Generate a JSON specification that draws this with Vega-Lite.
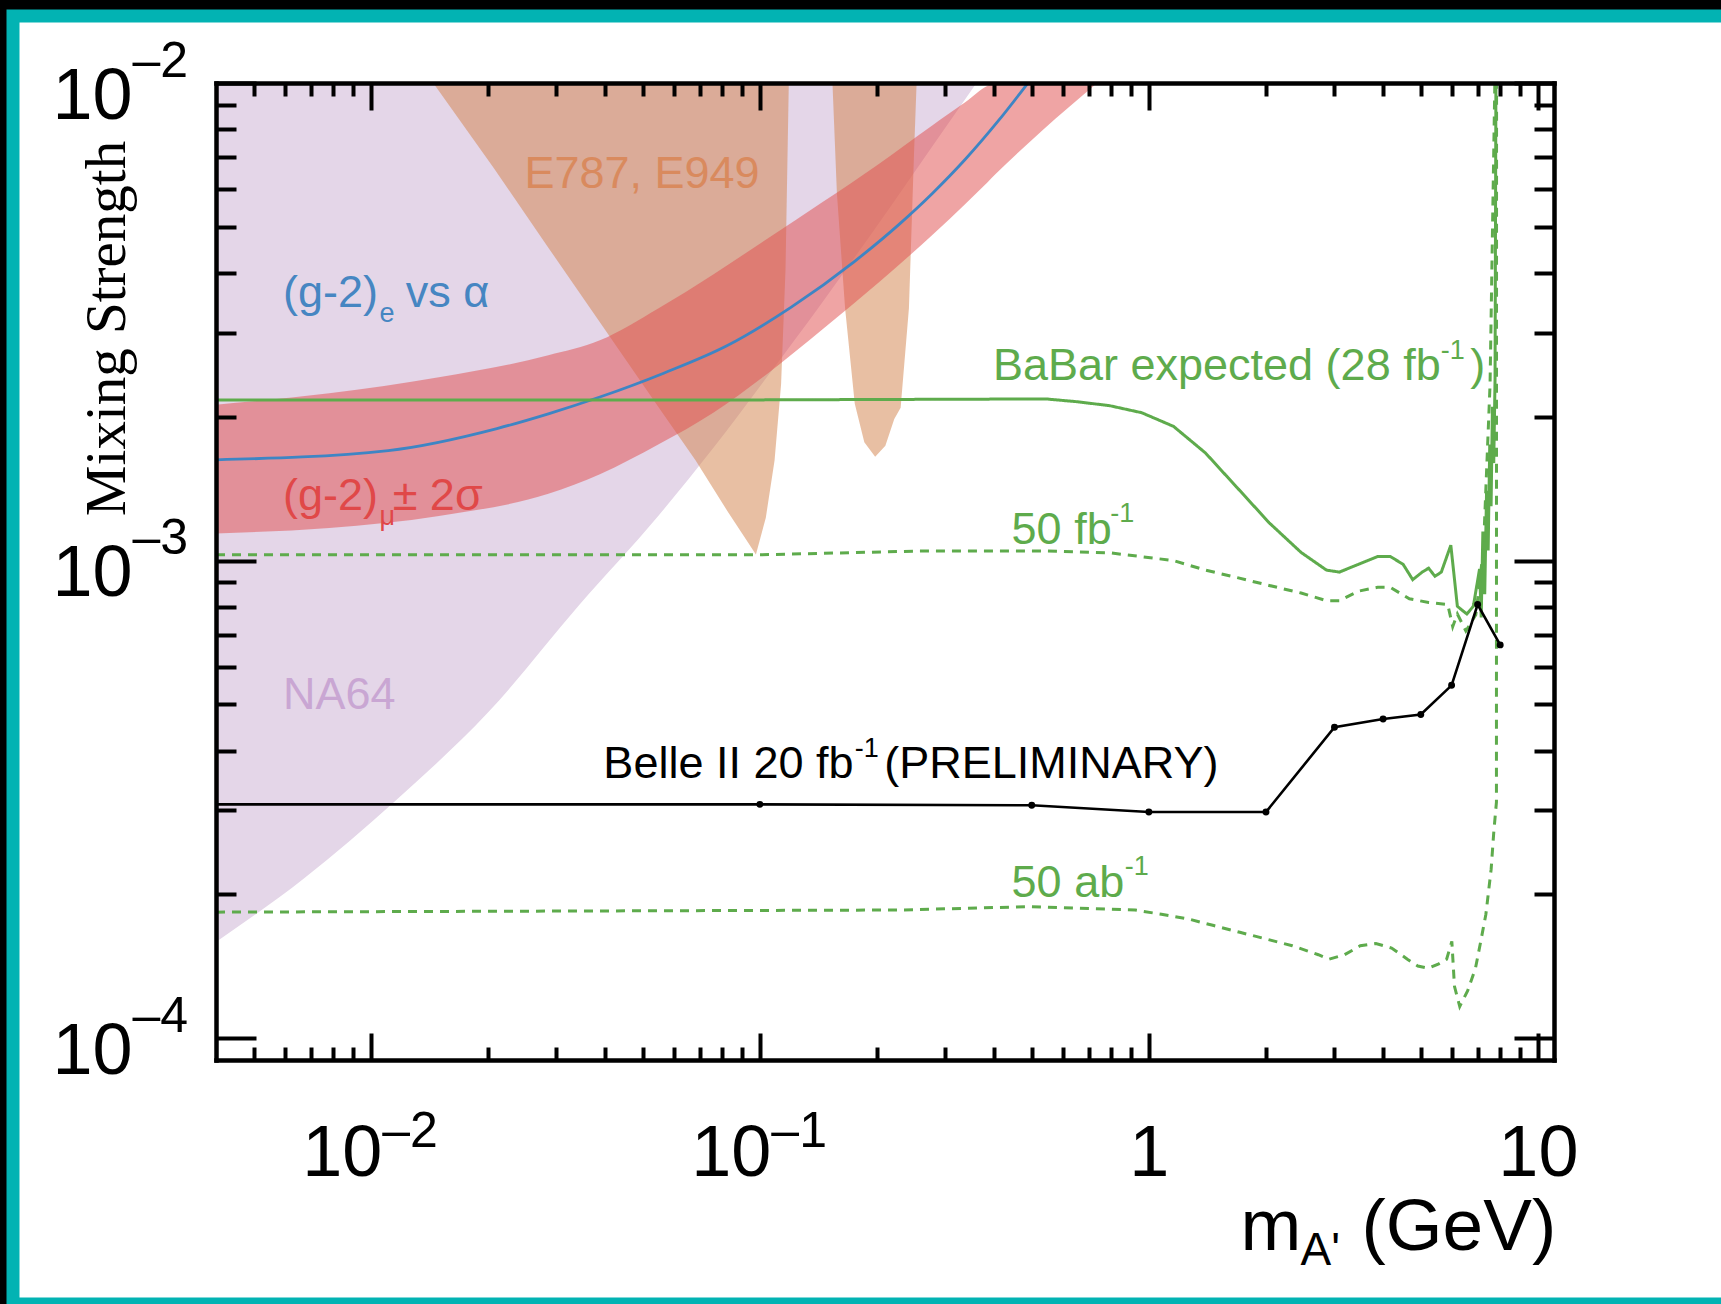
{
  "$schema": "https://vega.github.io/schema/vega-lite/v6.json",
  "width": 1708,
  "height": 1288,
  "autosize": {"type": "none"},
  "padding": {"left": 13, "top": 16, "right": 0, "bottom": 0},
  "background": "#000000",
  "view": {"fill": "#ffffff", "stroke": "#02B3B3", "strokeWidth": 13, "strokeDash": [1708, 1288, 3000]},
  "config": {"font": "Liberation Sans", "axis": {"grid": false}},
  "datasets": {
    "na64": [
      {"m": 0.004, "v": 0.000159}, {"m": 0.00673, "v": 0.000216}, {"m": 0.01161, "v": 0.000315},
      {"m": 0.02003, "v": 0.000481}, {"m": 0.03433, "v": 0.000807}, {"m": 0.0548, "v": 0.00124},
      {"m": 0.0759, "v": 0.00172}, {"m": 0.105, "v": 0.00244}, {"m": 0.145, "v": 0.00348},
      {"m": 0.201, "v": 0.00505}, {"m": 0.278, "v": 0.00738}, {"m": 0.3605, "v": 0.01}
    ],
    "e787": [
      {"piece": "a", "m": 0.01447, "v": 0.01}, {"piece": "a", "m": 0.0207, "v": 0.00664},
      {"piece": "a", "m": 0.0286, "v": 0.00452}, {"piece": "a", "m": 0.0396, "v": 0.00308},
      {"piece": "a", "m": 0.0548, "v": 0.0021}, {"piece": "a", "m": 0.0684, "v": 0.00162},
      {"piece": "a", "m": 0.0825, "v": 0.00127}, {"piece": "a", "m": 0.0977, "v": 0.00103},
      {"piece": "a", "m": 0.1036, "v": 0.00123}, {"piece": "a", "m": 0.1091, "v": 0.00162},
      {"piece": "a", "m": 0.1134, "v": 0.00234}, {"piece": "a", "m": 0.1164, "v": 0.00406},
      {"piece": "a", "m": 0.1187, "v": 0.01},
      {"piece": "b", "m": 0.1537, "v": 0.01}, {"piece": "b", "m": 0.1578, "v": 0.00588},
      {"piece": "b", "m": 0.1656, "v": 0.00338}, {"piece": "b", "m": 0.1754, "v": 0.00213},
      {"piece": "b", "m": 0.1856, "v": 0.00177}, {"piece": "b", "m": 0.1979, "v": 0.00165},
      {"piece": "b", "m": 0.2102, "v": 0.00174}, {"piece": "b", "m": 0.2216, "v": 0.00198},
      {"piece": "b", "m": 0.2301, "v": 0.00209}, {"piece": "b", "m": 0.2417, "v": 0.00338},
      {"piece": "b", "m": 0.249, "v": 0.00707}, {"piece": "b", "m": 0.2529, "v": 0.01}
    ],
    "gm2mu": [
      {"m": 0.004, "lo": 0.00114, "hi": 0.00212}, {"m": 0.00782, "lo": 0.00117, "hi": 0.00224},
      {"m": 0.01496, "lo": 0.00124, "hi": 0.00242}, {"m": 0.0286, "lo": 0.00138, "hi": 0.00269},
      {"m": 0.0388, "lo": 0.001517, "hi": 0.002892}, {"m": 0.0548, "lo": 0.00175, "hi": 0.003372},
      {"m": 0.0759, "lo": 0.00204, "hi": 0.003973}, {"m": 0.105, "lo": 0.002468, "hi": 0.004732},
      {"m": 0.145, "lo": 0.00305, "hi": 0.005633}, {"m": 0.201, "lo": 0.00381, "hi": 0.006745},
      {"m": 0.278, "lo": 0.00481, "hi": 0.008161}, {"m": 0.3379, "lo": 0.00559, "hi": 0.00912},
      {"m": 0.385, "lo": 0.0062, "hi": 0.00987}, {"m": 0.4025, "lo": 0.00643, "hi": 0.0101},
      {"m": 0.532, "lo": 0.00795, "hi": 0.0101}, {"m": 0.736, "lo": 0.0101, "hi": 0.0101}
    ],
    "gm2e": [
      {"m": 0.004, "v": 0.001625}, {"m": 0.01109, "v": 0.0017}, {"m": 0.0211, "v": 0.00189},
      {"m": 0.0286, "v": 0.002029}, {"m": 0.0388, "v": 0.0022}, {"m": 0.0566, "v": 0.002468},
      {"m": 0.0825, "v": 0.00282}, {"m": 0.1202, "v": 0.00339}, {"m": 0.1753, "v": 0.004233},
      {"m": 0.2288, "v": 0.00507}, {"m": 0.278, "v": 0.005877}, {"m": 0.3379, "v": 0.00693},
      {"m": 0.4105, "v": 0.008337}, {"m": 0.489, "v": 0.01003}
    ],
    "babar": [
      {"s": "28", "m": 0.004, "v": 0.00217}, {"s": "28", "m": 0.1, "v": 0.00217},
      {"s": "28", "m": 0.544, "v": 0.00218}, {"s": "28", "m": 0.657, "v": 0.00215},
      {"s": "28", "m": 0.793, "v": 0.00211}, {"s": "28", "m": 0.958, "v": 0.00204},
      {"s": "28", "m": 1.157, "v": 0.00191}, {"s": "28", "m": 1.398, "v": 0.00168},
      {"s": "28", "m": 1.688, "v": 0.00142}, {"s": "28", "m": 2.038, "v": 0.0012},
      {"s": "28", "m": 2.462, "v": 0.00104}, {"s": "28", "m": 2.862, "v": 0.000955},
      {"s": "28", "m": 3.088, "v": 0.000946}, {"s": "28", "m": 3.458, "v": 0.000982},
      {"s": "28", "m": 3.874, "v": 0.00102}, {"s": "28", "m": 4.174, "v": 0.00102},
      {"s": "28", "m": 4.504, "v": 0.000982}, {"s": "28", "m": 4.767, "v": 0.000912},
      {"s": "28", "m": 5.043, "v": 0.000946}, {"s": "28", "m": 5.237, "v": 0.000964},
      {"s": "28", "m": 5.437, "v": 0.000927}, {"s": "28", "m": 5.646, "v": 0.000946},
      {"s": "28", "m": 5.973, "v": 0.001077}, {"s": "28", "m": 6.209, "v": 0.000802},
      {"s": "28", "m": 6.566, "v": 0.000773}, {"s": "28", "m": 6.823, "v": 0.000802},
      {"s": "28", "m": 7.08, "v": 0.00096}, {"s": "28", "m": 7.15, "v": 0.00076},
      {"s": "28", "m": 7.22, "v": 0.00115}, {"s": "28", "m": 7.3, "v": 0.00085},
      {"s": "28", "m": 7.38, "v": 0.0014}, {"s": "28", "m": 7.45, "v": 0.00105},
      {"s": "28", "m": 7.52, "v": 0.00175}, {"s": "28", "m": 7.58, "v": 0.0013},
      {"s": "28", "m": 7.64, "v": 0.0021}, {"s": "28", "m": 7.7, "v": 0.0016},
      {"s": "28", "m": 7.76, "v": 0.0024}, {"s": "28", "m": 7.8, "v": 0.012},
      {"s": "50fb", "m": 0.004, "v": 0.001028}, {"s": "50fb", "m": 0.0387, "v": 0.001028},
      {"s": "50fb", "m": 0.0995, "v": 0.001028}, {"s": "50fb", "m": 0.256, "v": 0.001047},
      {"s": "50fb", "m": 0.544, "v": 0.001047}, {"s": "50fb", "m": 0.793, "v": 0.001038},
      {"s": "50fb", "m": 0.958, "v": 0.001019}, {"s": "50fb", "m": 1.157, "v": 0.001},
      {"s": "50fb", "m": 1.398, "v": 0.000955}, {"s": "50fb", "m": 1.688, "v": 0.000921},
      {"s": "50fb", "m": 2.038, "v": 0.000887}, {"s": "50fb", "m": 2.462, "v": 0.000855},
      {"s": "50fb", "m": 2.862, "v": 0.000824}, {"s": "50fb", "m": 3.088, "v": 0.000824},
      {"s": "50fb", "m": 3.458, "v": 0.000863}, {"s": "50fb", "m": 3.874, "v": 0.000879},
      {"s": "50fb", "m": 4.174, "v": 0.000879}, {"s": "50fb", "m": 4.674, "v": 0.000832},
      {"s": "50fb", "m": 5.237, "v": 0.000817}, {"s": "50fb", "m": 5.865, "v": 0.000809},
      {"s": "50fb", "m": 6.04, "v": 0.000727}, {"s": "50fb", "m": 6.209, "v": 0.000773},
      {"s": "50fb", "m": 6.53, "v": 0.000712}, {"s": "50fb", "m": 6.925, "v": 0.00077},
      {"s": "50fb", "m": 7.246, "v": 0.001058}, {"s": "50fb", "m": 7.534, "v": 0.00234},
      {"s": "50fb", "m": 7.75, "v": 0.012},
      {"s": "50ab", "m": 0.004, "v": 0.0001836}, {"s": "50ab", "m": 0.2288, "v": 0.0001855},
      {"s": "50ab", "m": 0.4963, "v": 0.0001885}, {"s": "50ab", "m": 0.922, "v": 0.0001855},
      {"s": "50ab", "m": 1.077, "v": 0.0001817}, {"s": "50ab", "m": 1.258, "v": 0.0001778},
      {"s": "50ab", "m": 1.468, "v": 0.0001721}, {"s": "50ab", "m": 1.713, "v": 0.0001666},
      {"s": "50ab", "m": 2.001, "v": 0.0001613}, {"s": "50ab", "m": 2.337, "v": 0.0001561},
      {"s": "50ab", "m": 2.727, "v": 0.0001495}, {"s": "50ab", "m": 2.902, "v": 0.0001463},
      {"s": "50ab", "m": 3.184, "v": 0.0001495}, {"s": "50ab", "m": 3.494, "v": 0.0001561},
      {"s": "50ab", "m": 3.834, "v": 0.0001578}, {"s": "50ab", "m": 4.207, "v": 0.0001544},
      {"s": "50ab", "m": 4.619, "v": 0.0001463}, {"s": "50ab", "m": 4.913, "v": 0.0001416},
      {"s": "50ab", "m": 5.23, "v": 0.0001401}, {"s": "50ab", "m": 5.563, "v": 0.0001431},
      {"s": "50ab", "m": 5.826, "v": 0.0001463}, {"s": "50ab", "m": 6.009, "v": 0.0001595},
      {"s": "50ab", "m": 6.103, "v": 0.0001284}, {"s": "50ab", "m": 6.297, "v": 0.0001165},
      {"s": "50ab", "m": 6.6, "v": 0.0001257}, {"s": "50ab", "m": 6.911, "v": 0.0001401},
      {"s": "50ab", "m": 7.131, "v": 0.0001595}, {"s": "50ab", "m": 7.35, "v": 0.0001817},
      {"s": "50ab", "m": 7.582, "v": 0.0002256}, {"s": "50ab", "m": 7.697, "v": 0.0002682},
      {"s": "50ab", "m": 7.824, "v": 0.000312}, {"s": "50ab", "m": 7.83, "v": 0.012}
    ],
    "belle": [
      {"m": 0.004, "v": 0.0003087}, {"m": 0.1, "v": 0.0003087}, {"m": 0.5, "v": 0.0003074},
      {"m": 1, "v": 0.0002975}, {"m": 2, "v": 0.0002975}, {"m": 3, "v": 0.0004478},
      {"m": 4, "v": 0.000466}, {"m": 5, "v": 0.000476}, {"m": 6, "v": 0.000548},
      {"m": 7, "v": 0.000809}, {"m": 8, "v": 0.000666}
    ]
  },
  "layer": [
    {
      "data": {"name": "na64"},
      "mark": {"type": "area", "color": "#E4D6E8", "opacity": 1, "interpolate": "monotone"},
      "encoding": {
        "x": {"field": "m", "type": "quantitative",
          "scale": {"type": "log", "domain": [0.004, 11], "range": [203, 1541], "clamp": true, "nice": false},
          "axis": {"orient": "bottom", "offset": -244, "values": [0.01, 0.1, 1, 10], "labels": false,
            "ticks": true, "tickSize": -27, "tickWidth": 4, "tickColor": "#000000",
            "domain": true, "domainWidth": 4.5, "domainColor": "#000000", "domainCap": "square", "zindex": 2,
            "title": "m", "titleFont": "Liberation Sans", "titleFontSize": 73, "titleFontWeight": "normal",
            "titleColor": "#000000", "titleAlign": "left", "titleBaseline": "alphabetic", "titleAngle": 0,
            "titleX": 1227, "titleY": 189}},
        "y": {"field": "v", "type": "quantitative",
          "scale": {"type": "log", "domain": [0.00009, 0.01], "range": [1044, 67], "clamp": true, "nice": false},
          "axis": {"orient": "left", "offset": -203, "values": [0.0001, 0.001, 0.01], "labels": false,
            "ticks": true, "tickSize": -40, "tickWidth": 4, "tickColor": "#000000",
            "domain": true, "domainWidth": 4.5, "domainColor": "#000000", "domainCap": "square", "zindex": 2,
            "title": "Mixing Strength", "titleFont": "Liberation Serif", "titleFontSize": 57, "titleFontWeight": "normal",
            "titleColor": "#000000", "titleAlign": "center", "titleBaseline": "alphabetic", "titleAngle": -90,
            "titleX": -92, "titleY": 312}},
        "y2": {"datum": 0.01}
      }
    },
    {
      "data": {"name": "e787"},
      "mark": {"type": "area", "color": "#D2844E", "opacity": 0.52},
      "encoding": {
        "x": {"field": "m", "type": "quantitative",
          "scale": {"type": "log", "domain": [0.004, 11], "range": [203, 1541], "clamp": true, "nice": false},
          "axis": {"orient": "bottom", "offset": -244,
            "values": [0.005, 0.006, 0.007, 0.008, 0.009, 0.02, 0.03, 0.04, 0.05, 0.06, 0.07, 0.08, 0.09, 0.2, 0.3, 0.4, 0.5, 0.6, 0.7, 0.8, 0.9, 2, 3, 4, 5, 6, 7, 8, 9],
            "labels": false, "ticks": true, "tickSize": -13, "tickWidth": 4, "tickColor": "#000000",
            "domain": false, "zindex": 2,
            "title": "A'", "titleFont": "Liberation Sans", "titleFontSize": 46, "titleFontWeight": "normal",
            "titleColor": "#000000", "titleAlign": "left", "titleBaseline": "alphabetic", "titleAngle": 0,
            "titleX": 1287, "titleY": 204}},
        "y": {"field": "v", "type": "quantitative",
          "scale": {"type": "log", "domain": [0.00009, 0.01], "range": [1044, 67], "clamp": true, "nice": false},
          "axis": {"orient": "left", "offset": -203,
            "values": [0.0002, 0.0003, 0.0004, 0.0005, 0.0006, 0.0007, 0.0008, 0.0009, 0.002, 0.003, 0.004, 0.005, 0.006, 0.007, 0.008, 0.009],
            "labels": false, "ticks": true, "tickSize": -20, "tickWidth": 4, "tickColor": "#000000",
            "domain": false, "zindex": 2, "title": null}},
        "y2": {"datum": 0.01},
        "detail": {"field": "piece"}
      }
    },
    {
      "data": {"name": "gm2mu"},
      "mark": {"type": "area", "color": "#E05050", "opacity": 0.52, "interpolate": "monotone"},
      "encoding": {
        "x": {"field": "m", "type": "quantitative",
          "scale": {"type": "log", "domain": [0.004, 11], "range": [203, 1541], "clamp": true, "nice": false},
          "axis": {"orient": "bottom", "offset": -244, "values": [0.01, 0.1], "ticks": false, "domain": false,
            "labelExpr": "'10'", "labelFont": "Liberation Sans", "labelFontSize": 72, "labelColor": "#000000",
            "labelAlign": "right", "labelBaseline": "alphabetic", "labelPadding": 115, "labelOffset": 11,
            "labelOverlap": false, "labelFlush": false, "zindex": 2,
            "title": "(GeV)", "titleFont": "Liberation Sans", "titleFontSize": 73, "titleFontWeight": "normal",
            "titleColor": "#000000", "titleAlign": "left", "titleBaseline": "alphabetic", "titleAngle": 0,
            "titleX": 1348, "titleY": 189}},
        "y": {"field": "lo", "type": "quantitative",
          "scale": {"type": "log", "domain": [0.00009, 0.01], "range": [1044, 67], "clamp": true, "nice": false},
          "axis": {"orient": "left", "offset": -203, "values": [0.0001, 0.001, 0.01], "ticks": false, "domain": false,
            "labelExpr": "'10'", "labelFont": "Liberation Sans", "labelFontSize": 72, "labelColor": "#000000",
            "labelAlign": "right", "labelBaseline": "alphabetic", "labelPadding": 84, "labelOffset": 35,
            "labelOverlap": false, "labelFlush": false, "zindex": 2, "title": null}},
        "y2": {"field": "hi"}
      }
    },
    {
      "data": {"name": "gm2e"},
      "mark": {"type": "line", "color": "#3E85C4", "strokeWidth": 2.8, "interpolate": "monotone"},
      "encoding": {
        "x": {"field": "m", "type": "quantitative",
          "scale": {"type": "log", "domain": [0.004, 11], "range": [203, 1541], "clamp": true, "nice": false},
          "axis": {"orient": "bottom", "offset": -244, "values": [1, 10], "ticks": false, "domain": false,
            "labelExpr": "datum.value < 5 ? '1' : '10'", "labelFont": "Liberation Sans", "labelFontSize": 72,
            "labelColor": "#000000", "labelAlign": "center", "labelBaseline": "alphabetic", "labelPadding": 115,
            "labelOverlap": false, "labelFlush": false, "zindex": 2, "title": null}},
        "y": {"field": "v", "type": "quantitative",
          "scale": {"type": "log", "domain": [0.00009, 0.01], "range": [1044, 67], "clamp": true, "nice": false},
          "axis": {"orient": "left", "offset": -203, "values": [0.0001, 0.001, 0.01], "ticks": false, "domain": false,
            "labelExpr": "datum.value > 0.005 ? '–2' : datum.value > 0.0005 ? '–3' : '–4'",
            "labelFont": "Liberation Sans", "labelFontSize": 50, "labelColor": "#000000",
            "labelAlign": "left", "labelBaseline": "alphabetic", "labelPadding": 84, "labelOffset": -7,
            "labelOverlap": false, "labelFlush": false, "zindex": 2, "title": null}}
      }
    },
    {
      "data": {"name": "babar"},
      "mark": {"type": "line", "color": "#5EAB4C", "strokeWidth": 3},
      "encoding": {
        "x": {"field": "m", "type": "quantitative",
          "scale": {"type": "log", "domain": [0.004, 11], "range": [203, 1541], "clamp": true, "nice": false},
          "axis": {"orient": "bottom", "offset": -244, "values": [0.01, 0.1], "ticks": false, "domain": false,
            "labelExpr": "datum.value < 0.05 ? '–2' : '–1'", "labelFont": "Liberation Sans", "labelFontSize": 50,
            "labelColor": "#000000", "labelAlign": "left", "labelBaseline": "alphabetic", "labelPadding": 86,
            "labelOffset": 11, "labelOverlap": false, "labelFlush": false, "zindex": 2, "title": null}},
        "y": {"field": "v", "type": "quantitative",
          "scale": {"type": "log", "domain": [0.00009, 0.01], "range": [1044, 67], "clamp": true, "nice": false},
          "axis": {"orient": "right", "offset": -167, "values": [0.0001, 0.001, 0.01], "labels": false,
            "ticks": true, "tickSize": -40, "tickWidth": 4, "tickColor": "#000000",
            "domain": true, "domainWidth": 4.5, "domainColor": "#000000", "domainCap": "square", "zindex": 2, "title": null}},
        "detail": {"field": "s"},
        "strokeDash": {"field": "s", "type": "nominal", "legend": null,
          "scale": {"domain": ["28", "50fb", "50ab"], "range": [[1, 0], [9, 7], [9, 7]]}}
      }
    },
    {
      "data": {"name": "belle"},
      "mark": {"type": "line", "color": "#000000", "strokeWidth": 2.6},
      "encoding": {
        "x": {"field": "m", "type": "quantitative",
          "scale": {"type": "log", "domain": [0.004, 11], "range": [203, 1541], "clamp": true, "nice": false},
          "axis": {"orient": "top", "offset": -67, "values": [0.01, 0.1, 1, 10], "labels": false,
            "ticks": true, "tickSize": -27, "tickWidth": 4, "tickColor": "#000000",
            "domain": true, "domainWidth": 4.5, "domainColor": "#000000", "domainCap": "square", "zindex": 2, "title": null}},
        "y": {"field": "v", "type": "quantitative",
          "scale": {"type": "log", "domain": [0.00009, 0.01], "range": [1044, 67], "clamp": true, "nice": false},
          "axis": {"orient": "right", "offset": -167,
            "values": [0.0002, 0.0003, 0.0004, 0.0005, 0.0006, 0.0007, 0.0008, 0.0009, 0.002, 0.003, 0.004, 0.005, 0.006, 0.007, 0.008, 0.009],
            "labels": false, "ticks": true, "tickSize": -20, "tickWidth": 4, "tickColor": "#000000",
            "domain": false, "zindex": 2, "title": null}}
      }
    },
    {
      "data": {"name": "belle"},
      "transform": [{"filter": "datum.m >= 0.1"}],
      "mark": {"type": "point", "filled": true, "color": "#000000", "size": 48, "opacity": 1},
      "encoding": {
        "x": {"field": "m", "type": "quantitative",
          "scale": {"type": "log", "domain": [0.004, 11], "range": [203, 1541], "clamp": true, "nice": false},
          "axis": {"orient": "top", "offset": -67,
            "values": [0.005, 0.006, 0.007, 0.008, 0.009, 0.02, 0.03, 0.04, 0.05, 0.06, 0.07, 0.08, 0.09, 0.2, 0.3, 0.4, 0.5, 0.6, 0.7, 0.8, 0.9, 2, 3, 4, 5, 6, 7, 8, 9],
            "labels": false, "ticks": true, "tickSize": -13, "tickWidth": 4, "tickColor": "#000000",
            "domain": false, "zindex": 2, "title": null}},
        "y": {"field": "v", "type": "quantitative",
          "scale": {"type": "log", "domain": [0.00009, 0.01], "range": [1044, 67], "clamp": true, "nice": false},
          "axis": null}
      }
    },
    {
      "data": {"values": [{"m": 0.02482, "v": 0.006035, "t": "E787, E949"}]},
      "mark": {"type": "text", "align": "left", "baseline": "alphabetic", "font": "Liberation Sans", "fontSize": 45, "color": "#D98A5E"},
      "encoding": {
        "x": {"field": "m", "type": "quantitative", "scale": {"type": "log", "domain": [0.004, 11], "range": [203, 1541], "clamp": true, "nice": false}, "axis": null},
        "y": {"field": "v", "type": "quantitative", "scale": {"type": "log", "domain": [0.00009, 0.01], "range": [1044, 67], "clamp": true, "nice": false}, "axis": null},
        "text": {"field": "t"}
      }
    },
    {
      "data": {"values": [{"m": 0.005943, "v": 0.00339, "t": "(g-2)"}, {"m": 0.0123, "v": 0.00339, "t": "vs  α"}]},
      "mark": {"type": "text", "align": "left", "baseline": "alphabetic", "font": "Liberation Sans", "fontSize": 45, "color": "#4686C2"},
      "encoding": {
        "x": {"field": "m", "type": "quantitative", "scale": {"type": "log", "domain": [0.004, 11], "range": [203, 1541], "clamp": true, "nice": false}, "axis": null},
        "y": {"field": "v", "type": "quantitative", "scale": {"type": "log", "domain": [0.00009, 0.01], "range": [1044, 67], "clamp": true, "nice": false}, "axis": null},
        "text": {"field": "t"}
      }
    },
    {
      "data": {"values": [{"m": 0.01053, "v": 0.003164, "t": "e"}]},
      "mark": {"type": "text", "align": "left", "baseline": "alphabetic", "font": "Liberation Sans", "fontSize": 27, "color": "#4686C2"},
      "encoding": {
        "x": {"field": "m", "type": "quantitative", "scale": {"type": "log", "domain": [0.004, 11], "range": [203, 1541], "clamp": true, "nice": false}, "axis": null},
        "y": {"field": "v", "type": "quantitative", "scale": {"type": "log", "domain": [0.00009, 0.01], "range": [1044, 67], "clamp": true, "nice": false}, "axis": null},
        "text": {"field": "t"}
      }
    },
    {
      "data": {"values": [{"m": 0.005943, "v": 0.001274, "t": "(g-2)"}, {"m": 0.01138, "v": 0.001274, "t": "± 2σ"}]},
      "mark": {"type": "text", "align": "left", "baseline": "alphabetic", "font": "Liberation Sans", "fontSize": 45, "color": "#E04848"},
      "encoding": {
        "x": {"field": "m", "type": "quantitative", "scale": {"type": "log", "domain": [0.004, 11], "range": [203, 1541], "clamp": true, "nice": false}, "axis": null},
        "y": {"field": "v", "type": "quantitative", "scale": {"type": "log", "domain": [0.00009, 0.01], "range": [1044, 67], "clamp": true, "nice": false}, "axis": null},
        "text": {"field": "t"}
      }
    },
    {
      "data": {"values": [{"m": 0.01053, "v": 0.001189, "t": "μ"}]},
      "mark": {"type": "text", "align": "left", "baseline": "alphabetic", "font": "Liberation Sans", "fontSize": 27, "color": "#E04848"},
      "encoding": {
        "x": {"field": "m", "type": "quantitative", "scale": {"type": "log", "domain": [0.004, 11], "range": [203, 1541], "clamp": true, "nice": false}, "axis": null},
        "y": {"field": "v", "type": "quantitative", "scale": {"type": "log", "domain": [0.00009, 0.01], "range": [1044, 67], "clamp": true, "nice": false}, "axis": null},
        "text": {"field": "t"}
      }
    },
    {
      "data": {"values": [{"m": 0.005943, "v": 0.0004887, "t": "NA64"}]},
      "mark": {"type": "text", "align": "left", "baseline": "alphabetic", "font": "Liberation Sans", "fontSize": 45, "color": "#C9A6D3"},
      "encoding": {
        "x": {"field": "m", "type": "quantitative", "scale": {"type": "log", "domain": [0.004, 11], "range": [203, 1541], "clamp": true, "nice": false}, "axis": null},
        "y": {"field": "v", "type": "quantitative", "scale": {"type": "log", "domain": [0.00009, 0.01], "range": [1044, 67], "clamp": true, "nice": false}, "axis": null},
        "text": {"field": "t"}
      }
    },
    {
      "data": {"values": [
        {"m": 0.3973, "v": 0.002391, "t": "BaBar expected (28 fb"}, {"m": 6.705, "v": 0.002391, "t": ")"},
        {"m": 0.4437, "v": 0.001081, "t": "50 fb"}, {"m": 0.4437, "v": 0.0001977, "t": "50 ab"}
      ]},
      "mark": {"type": "text", "align": "left", "baseline": "alphabetic", "font": "Liberation Sans", "fontSize": 45, "color": "#5EAB4C"},
      "encoding": {
        "x": {"field": "m", "type": "quantitative", "scale": {"type": "log", "domain": [0.004, 11], "range": [203, 1541], "clamp": true, "nice": false}, "axis": null},
        "y": {"field": "v", "type": "quantitative", "scale": {"type": "log", "domain": [0.00009, 0.01], "range": [1044, 67], "clamp": true, "nice": false}, "axis": null},
        "text": {"field": "t"}
      }
    },
    {
      "data": {"values": [
        {"m": 5.625, "v": 0.002644, "t": "-1"}, {"m": 0.7962, "v": 0.001202, "t": "-1"}, {"m": 0.8664, "v": 0.0002198, "t": "-1"}
      ]},
      "mark": {"type": "text", "align": "left", "baseline": "alphabetic", "font": "Liberation Sans", "fontSize": 27, "color": "#5EAB4C"},
      "encoding": {
        "x": {"field": "m", "type": "quantitative", "scale": {"type": "log", "domain": [0.004, 11], "range": [203, 1541], "clamp": true, "nice": false}, "axis": null},
        "y": {"field": "v", "type": "quantitative", "scale": {"type": "log", "domain": [0.00009, 0.01], "range": [1044, 67], "clamp": true, "nice": false}, "axis": null},
        "text": {"field": "t"}
      }
    },
    {
      "data": {"values": [
        {"m": 0.03961, "v": 0.0003501, "t": "Belle II 20 fb"}, {"m": 0.2089, "v": 0.0003501, "t": "(PRELIMINARY)"}
      ]},
      "mark": {"type": "text", "align": "left", "baseline": "alphabetic", "font": "Liberation Sans", "fontSize": 45, "color": "#000000"},
      "encoding": {
        "x": {"field": "m", "type": "quantitative", "scale": {"type": "log", "domain": [0.004, 11], "range": [203, 1541], "clamp": true, "nice": false}, "axis": null},
        "y": {"field": "v", "type": "quantitative", "scale": {"type": "log", "domain": [0.00009, 0.01], "range": [1044, 67], "clamp": true, "nice": false}, "axis": null},
        "text": {"field": "t"}
      }
    },
    {
      "data": {"values": [{"m": 0.1753, "v": 0.0003871, "t": "-1"}]},
      "mark": {"type": "text", "align": "left", "baseline": "alphabetic", "font": "Liberation Sans", "fontSize": 27, "color": "#000000"},
      "encoding": {
        "x": {"field": "m", "type": "quantitative", "scale": {"type": "log", "domain": [0.004, 11], "range": [203, 1541], "clamp": true, "nice": false}, "axis": null},
        "y": {"field": "v", "type": "quantitative", "scale": {"type": "log", "domain": [0.00009, 0.01], "range": [1044, 67], "clamp": true, "nice": false}, "axis": null},
        "text": {"field": "t"}
      }
    }
  ],
  "resolve": {"axis": {"x": "independent", "y": "independent"}}
}
